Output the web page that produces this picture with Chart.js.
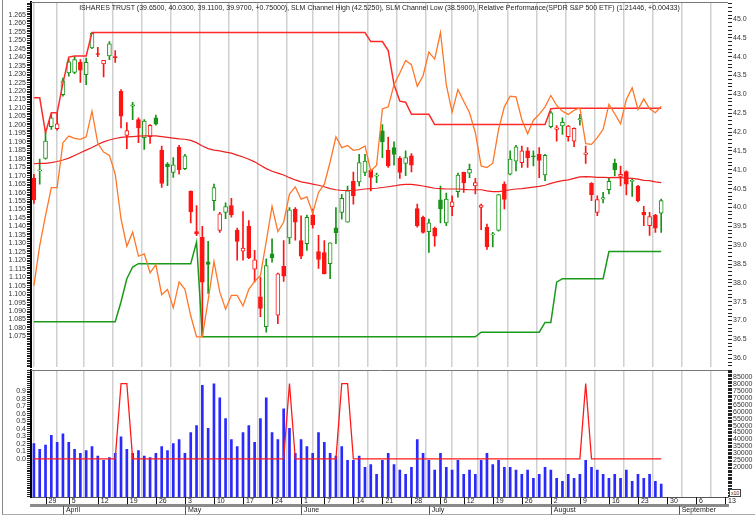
<!DOCTYPE html>
<html>
<head>
<meta charset="utf-8">
<script src="https://cdn.jsdelivr.net/npm/chart.js@4.4.1/dist/chart.umd.min.js"></script>
<style>
  body{margin:0;background:#fff;}
  #box{position:relative;width:755px;height:517px;overflow:hidden;font-family:"Liberation Sans",Arial,sans-serif;}
  #frame{position:absolute;left:2px;top:0;width:800px;height:514px;border-left:1px solid #888;border-bottom:1px solid #aaa;}
  #cTop{position:absolute;left:0;top:0;}
  #cBot{position:absolute;left:0;top:368px;}
  #titulo{position:absolute;left:31px;top:3px;width:697px;text-align:center;font-size:7px;line-height:9px;color:#222;white-space:nowrap;}
  #x10{position:absolute;left:729px;top:489px;font-size:5px;line-height:6px;border:1px solid #444;padding:0 1px;color:#222;background:#fff;}
</style>
</head>
<body>
<div id="box">
  <div id="frame"></div>
  <canvas id="cTop" width="755" height="369"></canvas>
  <canvas id="cBot" width="755" height="149"></canvas>
  <div id="titulo">ISHARES TRUST (39.6500, 40.0300, 39.1100, 39.9700, +0.75000), SLM Channel High (42.5250), SLM Channel Low (38.5900), Relative Performance(SPDR S&amp;P 500 ETF) (1.21446, +0.00433)</div>
  <div id="x10">x10</div>
</div>
<script>
// ===== TRADING DAYS =====
const marDays = [25,26,29,30,31];
const aprDays = [1,5,6,7,8,9,12,13,14,15,16,19,20,21,22,23,26,27,28,29,30];
const mayDays = [3,4,5,6,7,10,11,12,13,14,17,18,19,20,21,24,25,26,27,28];
const junDays = [1,2,3,4,7,8,9,10,11,14,15,16,17,18,21,22,23,24,25,28,29,30];
const julDays = [1,2,6,7,8,9,12,13,14,15,16,19,20,21,22,23,26,27,28,29,30];
const augDays = [2,3,4,5,6,9,10,11,12,13,16,17,18,19,20,23,24,25,26,27,30,31];
const sepDays = [1,2,3,6,7,8,9,10,13];

const weekTicks = ["Mar 29","Apr 5","Apr 12","Apr 19","Apr 26","May 3","May 10","May 17","May 24","Jun 1","Jun 7","Jun 14","Jun 21","Jun 28","Jul 6","Jul 12","Jul 19","Jul 26","Aug 2","Aug 9","Aug 16","Aug 23","Aug 30","Sep 6","Sep 13"];
const monthTicks = ["Apr 1","May 3","Jun 1","Jul 1","Aug 2","Sep 1"];
const monthNames = ["April","May","June","July","August","September"];

// ===== PRICE (ISHARES TRUST) =====
const open  = [40.77,40.97,41.30,42.14,42.09,42.99,43.57,43.58,43.85,43.52,44.23,44.08,43.81,44.02,44.00,43.08,41.91,42.69,42.33,41.85,41.88,42.38,41.52,41.15,40.93,41.60,41.03,40.43,39.36,39.21,38.56,40.18,39.39,39.87,40.05,39.39,38.84,39.50,38.36,37.63,36.84,38.77,37.14,38.44,39.19,39.96,39.12,39.04,39.80,38.83,38.80,38.51,39.46,39.87,39.61,40.69,40.68,40.93,40.99,40.83,42.03,41.52,41.59,41.30,41.17,41.37,39.97,39.74,39.36,39.45,40.20,39.59,40.02,40.42,40.93,40.91,40.57,40.00,39.47,39.27,39.39,40.62,40.88,41.23,41.19,41.50,41.37,41.41,40.86,42.14,42.07,42.16,41.88,41.76,42.32,41.41,40.64,39.87,40.22,40.47,41.17,40.82,40.95,40.69,40.57,39.87,39.52,39.80,39.85];
const high  = [40.88,41.28,42.00,42.48,42.50,43.43,43.94,44.01,43.92,43.96,44.64,44.25,43.90,44.40,44.16,43.13,42.25,42.79,42.38,42.33,42.20,42.45,41.63,41.19,41.32,41.65,41.41,40.44,40.05,39.50,39.10,40.62,39.87,40.12,40.24,39.45,39.89,39.65,38.86,38.15,38.64,39.17,38.26,39.12,40.00,40.00,39.78,39.80,39.96,39.26,39.12,39.06,40.00,40.35,40.57,40.94,41.41,41.41,41.01,40.91,42.20,41.87,41.74,41.35,41.50,41.43,40.09,39.77,39.69,39.48,40.57,40.38,40.31,40.91,40.94,41.15,40.77,40.09,39.56,39.34,40.34,40.68,41.50,41.65,41.63,41.59,41.50,41.59,41.41,42.55,42.17,42.38,42.18,42.11,42.47,41.63,40.66,40.31,40.40,40.77,41.28,41.10,40.97,40.75,40.59,40.03,39.87,39.82,40.22];
const low   = [40.11,40.62,41.28,42.07,42.05,42.95,43.48,43.55,43.32,43.26,44.21,44.00,43.46,43.92,43.85,42.11,41.56,42.33,41.72,41.54,41.70,42.18,40.53,40.58,40.80,40.88,41.00,39.59,39.25,36.58,37.72,39.92,39.34,39.70,39.74,38.60,38.60,38.64,38.02,37.10,36.69,38.55,36.92,38.04,39.04,39.13,38.64,38.86,39.45,38.38,38.24,38.11,39.04,39.69,39.61,40.09,40.57,40.84,40.44,40.66,41.32,41.06,41.12,40.77,40.84,40.94,39.48,39.32,38.81,38.97,39.59,39.52,39.78,40.27,40.40,40.79,40.36,39.41,38.89,38.95,39.37,39.96,40.86,40.97,41.06,41.06,41.10,40.79,40.71,42.11,41.76,41.94,41.76,41.61,42.18,41.17,40.18,39.78,40.12,40.36,40.84,40.57,40.33,40.29,40.15,39.52,39.26,39.34,39.34];
const close = [40.20,41.00,41.76,42.38,42.22,43.36,43.86,43.92,43.64,43.85,44.62,44.06,43.90,44.34,43.97,42.42,42.04,42.72,42.11,42.29,42.18,42.21,40.64,41.08,41.13,41.00,41.37,39.89,39.30,38.02,38.49,40.53,39.83,40.02,39.80,39.10,38.92,38.67,38.61,37.32,38.46,38.67,38.24,38.18,39.94,39.61,38.71,39.74,39.54,38.62,38.24,39.06,39.33,40.24,40.44,40.31,41.19,41.23,40.80,40.86,41.74,41.10,41.41,40.93,41.32,41.12,39.52,39.34,39.59,39.24,39.96,40.22,40.15,40.86,40.65,41.01,40.66,40.06,38.95,39.30,40.34,40.21,41.28,41.61,41.50,41.32,41.34,41.25,41.38,42.51,42.11,42.26,42.16,42.10,42.36,41.45,40.34,40.21,40.26,40.69,41.00,40.88,40.62,40.72,40.18,39.80,39.76,39.45,40.18];

// ===== OVERLAYS =====
const channelHigh = [42.91,42.91,41.98,42.51,42.51,43.30,43.99,44.02,44.02,44.02,
  44.64,44.64,44.64,44.64,44.64,44.64,44.64,44.64,44.64,44.64,44.64,44.64,44.64,44.64,44.64,44.64,
  44.64,44.64,44.64,44.64,44.64,44.64,44.64,44.64,44.64,44.64,44.64,44.64,44.64,44.64,44.64,44.64,
  44.64,44.64,44.64,44.64,44.64,44.64,44.64,44.64,44.64,44.64,44.64,44.64,44.64,44.64,44.64,44.64,
  44.40,44.40,44.40,44.16,43.26,42.82,42.79,42.47,42.47,42.47,42.47,
  42.20,42.20,42.20,42.20,42.20,42.20,42.20,42.20,42.20,42.20,42.20,42.20,42.20,42.20,42.20,42.20,42.20,42.20,42.20,42.20,
  42.62,42.63,42.63,42.63,42.63,42.63,42.63,42.63,42.63,42.63,42.63,42.63,42.63,42.63,42.63,42.63,42.63,42.63,42.63,42.63];
const channelLow = [36.97,36.97,36.97,36.97,36.97,36.97,36.97,36.97,36.97,36.97,36.97,36.97,36.97,36.97,36.97,
  37.50,38.11,38.42,38.51,38.51,38.51,38.51,38.51,38.51,38.51,38.51,38.51,38.51,39.08,
  36.57,36.57,36.57,36.57,36.57,36.57,36.57,36.57,36.57,36.57,36.57,36.57,36.57,36.57,36.57,36.57,
  36.57,36.57,36.57,36.57,36.57,36.57,36.57,36.57,36.57,36.57,36.57,36.57,36.57,36.57,36.57,36.57,
  36.57,36.57,36.57,36.57,36.57,36.57,36.57,36.57,36.57,36.57,36.57,36.57,36.57,36.57,36.57,36.57,
  36.69,36.69,36.69,36.69,36.69,36.69,36.69,36.69,36.69,36.69,36.69,36.95,36.95,
  38.02,38.11,38.11,38.11,38.11,38.11,38.11,38.11,38.11,
  38.83,38.83,38.83,38.83,38.83,38.83,38.83,38.83,38.83,38.83];
const movingAvg = [41.16,41.17,41.17,41.19,41.22,41.26,41.31,41.38,41.45,41.52,41.59,41.67,41.74,41.79,41.83,41.86,41.87,41.88,41.89,41.90,41.90,41.90,41.88,41.86,41.84,41.82,41.81,41.78,41.72,41.63,41.56,41.52,41.50,41.47,41.44,41.39,41.34,41.28,41.21,41.12,41.03,40.96,40.91,40.86,40.79,40.73,40.68,40.65,40.62,40.59,40.55,40.50,40.47,40.45,40.45,40.45,40.47,40.49,40.50,40.51,40.53,40.55,40.57,40.60,40.61,40.61,40.59,40.57,40.54,40.51,40.50,40.49,40.49,40.49,40.48,40.47,40.47,40.47,40.44,40.42,40.42,40.44,40.47,40.49,40.50,40.52,40.54,40.56,40.59,40.64,40.68,40.71,40.73,40.77,40.81,40.82,40.81,40.80,40.80,40.79,40.80,40.79,40.78,40.77,40.75,40.72,40.71,40.68,40.66];
const relPerf = [1.1050,1.1287,1.1464,1.1630,1.1630,1.1895,1.1934,1.1920,1.1915,1.1930,1.2081,1.1891,1.1840,1.1820,1.1709,1.1444,1.1283,1.1366,1.1224,1.1238,1.1126,1.1174,1.0997,1.1028,1.0919,1.1072,1.1028,1.0872,1.0748,1.0748,1.0964,1.1193,1.1013,1.0911,1.0993,1.0993,1.0930,1.1028,1.1075,1.1111,1.1311,1.1519,1.1370,1.1425,1.1591,1.1634,1.1561,1.1575,1.1479,1.1601,1.1650,1.1781,1.1930,1.1866,1.1879,1.1850,1.1856,1.1876,1.1728,1.1762,1.2095,1.2107,1.2238,1.2307,1.2381,1.2356,1.2228,1.2291,1.2430,1.2389,1.2546,1.2238,1.2075,1.2209,1.2140,1.2072,1.1954,1.1758,1.1748,1.1774,1.1974,1.2107,1.2170,1.2166,1.2032,1.1948,1.2028,1.2062,1.2107,1.2174,1.2115,1.2081,1.2062,1.2087,1.2101,1.1889,1.1885,1.1925,1.1974,1.2121,1.2066,1.2007,1.2150,1.2219,1.2091,1.2154,1.2095,1.2072,1.2111];

// ===== LOWER PANEL =====
const volume = [37000,33000,36000,43000,38000,44000,38000,33000,30000,32000,35000,28000,25000,27000,30000,42000,33000,30000,32000,28000,27000,30000,35000,32000,37000,40000,30000,45000,50000,79000,48000,80000,70000,55000,40000,35000,45000,50000,38000,55000,70000,45000,40000,62000,48000,30000,40000,35000,30000,45000,38000,30000,28000,35000,25000,25000,28000,20000,22000,15000,25000,30000,22000,18000,15000,20000,40000,30000,25000,18000,30000,20000,18000,25000,15000,18000,15000,25000,30000,22000,25000,20000,20000,18000,15000,18000,12000,15000,20000,18000,12000,10000,15000,12000,15000,25000,20000,18000,15000,12000,15000,12000,18000,10000,15000,12000,15000,10000,8000];
const signal = [0,0,0,0,0,0,0,0,0,0,0,0,0,0,0,1,1,0,0,0,0,0,0,0,0,0,0,0,0,0,0,0,0,0,0,0,0,0,0,0,0,0,0,0,1,0,0,0,0,0,0,0,0,1,1,0,0,0,0,0,0,0,0,0,0,0,0,0,0,0,0,0,0,0,0,0,0,0,0,0,0,0,0,0,0,0,0,0,0,0,0,0,0,0,0,1,0,0,0,0,0,0,0,0,0,0,0,0,0];

// ===== LABELS (one slot per trading day, future days included) =====
let labels = [];
marDays.forEach(d=>labels.push("Mar "+d));
aprDays.forEach(d=>labels.push("Apr "+d));
mayDays.forEach(d=>labels.push("May "+d));
junDays.forEach(d=>labels.push("Jun "+d));
julDays.forEach(d=>labels.push("Jul "+d));
augDays.forEach(d=>labels.push("Aug "+d));
sepDays.forEach(d=>labels.push("Sep "+d));
const weekPos = weekTicks.map(w=>labels.indexOf(w));
const monthPos = monthTicks.map(m=>labels.indexOf(m));
const xMin = -0.5, xMax = labels.length - 0.5;
const pts = arr => arr.map((v,i)=>({x:i, y:v}));

// ===== COLORS =====
const upColor = "#179317";
const downColor = "#ff1414";
function candleColor(i){
  if(i===undefined || i===0) return downColor;
  return close[i] >= close[i-1] ? upColor : downColor;
}
const fontTick = {family:"'Liberation Sans', Arial, sans-serif", size:7};
const fontY = {family:"'Liberation Sans', Arial, sans-serif", size:7, lineHeight:0.2};

// ===== PLUGINS =====
const topLine = {
  id:"topLine",
  afterDraw(chart){
    let a = chart.chartArea, c = chart.ctx;
    c.save();
    c.strokeStyle = "#777"; c.lineWidth = 1;
    c.beginPath(); c.moveTo(a.left, a.top+0.5); c.lineTo(a.right, a.top+0.5); c.stroke();
    c.restore();
  }
};
// short separators on the date rows (week starts and month starts)
const dateMarks = {
  id:"dateMarks",
  afterDraw(chart){
    let sx = chart.scales.x, sm = chart.scales.xm, c = chart.ctx;
    if(!sm) return;
    c.save();
    c.lineWidth = 1;
    c.strokeStyle = "#111";
    weekPos.forEach(p=>{
      let px = Math.round(sx.getPixelForValue(p)) + 0.5;
      c.beginPath(); c.moveTo(px, sx.top); c.lineTo(px, sx.top+7); c.stroke();
    });
    c.strokeStyle = "#555";
    monthPos.forEach(p=>{
      let px = Math.round(sm.getPixelForValue(p)) + 0.5;
      c.beginPath(); c.moveTo(px, sm.top); c.lineTo(px, sm.top+9); c.stroke();
    });
    c.restore();
  }
};

// ticks every `step`, a label every `every` ticks between kLo and kHi (in steps)
function yAxis(pos, min, max, step, every, kLo, kHi, dec, width){
  return {
    position: pos, min, max,
    afterBuildTicks: s => {
      let t = [];
      for(let k=Math.ceil(min/step); k<=Math.floor(max/step); k++) t.push({value:k*step});
      s.ticks = t;
    },
    afterFit: s => { s.width = width; },
    grid: {drawOnChartArea:false, tickLength:4, tickColor:"#222", tickWidth:1},
    border: pos==="left" ? {color:"#000", width:2} : {display:false},
    ticks: {
      autoSkip:false, padding:1, font:fontY, color:"#333",
      callback: v => { let k=Math.round(v/step); return (k%every===0 && k>=kLo && k<=kHi) ? (k*step).toFixed(dec) : ""; }
    }
  };
}

function weekAxis(show){
  return {
    type:"linear", position:"bottom", min:xMin, max:xMax, offset:false,
    afterBuildTicks: s => { s.ticks = weekPos.map(v=>({value:v})); },
    grid:{color:"#d0d0d0", lineWidth:1.5, drawTicks:false},
    border: show ? {color:"#555", width:1} : {display:false},
    ticks:{display:show, autoSkip:false, maxRotation:0, align:"start", padding:0, labelOffset:3,
           font:fontTick, color:"#222", callback: v => labels[v].split(" ")[1]}
  };
}

// ===== UPPER CHART =====
new Chart(document.getElementById("cTop"), {
  type:"bar",
  data:{
    datasets:[
      {type:"line", label:"Relative Performance", data:pts(relPerf), yAxisID:"yL", borderColor:"#ff7626", borderWidth:1.3, pointRadius:0, order:0},
      {type:"line", label:"SLM Channel High", data:pts(channelHigh), yAxisID:"yR", borderColor:"#ff2a2a", borderWidth:1.5, pointRadius:0, order:1},
      {type:"line", label:"SLM Channel Low", data:pts(channelLow), yAxisID:"yR", borderColor:"#199a19", borderWidth:1.5, pointRadius:0, order:1},
      {type:"line", label:"MA", data:pts(movingAvg), yAxisID:"yR", borderColor:"#ee2020", borderWidth:1.2, pointRadius:0, order:1},
      {label:"body", data:open.map((o,i)=>({x:i, y:[o, close[i]]})), yAxisID:"yR", grouped:false,
        barThickness:4, maxBarThickness:4, borderWidth:1, borderSkipped:false,
        borderColor: ctx => candleColor(ctx.dataIndex),
        backgroundColor: ctx => (ctx.dataIndex!==undefined && close[ctx.dataIndex] > open[ctx.dataIndex]) ? "#ffffff" : candleColor(ctx.dataIndex),
        order:2},
      {label:"wick", data:low.map((l,i)=>({x:i, y:[l, high[i]]})), yAxisID:"yR", grouped:false,
        barThickness:1, maxBarThickness:1, backgroundColor: ctx => candleColor(ctx.dataIndex), order:3}
    ]
  },
  options:{
    responsive:false, animation:false,
    layout:{padding:{top:2, bottom:0, left:0, right:0}},
    plugins:{legend:{display:false}, tooltip:{enabled:false}},
    scales:{
      x: weekAxis(false),
      yL: yAxis("left", 1.05676, 1.27265, 0.001, 5, 1075, 1265, 3, 31),
      yR: yAxis("right", 35.76, 45.45, 0.1, 5, 360, 450, 1, 27)
    }
  },
  plugins:[topLine]
});

// ===== LOWER CHART =====
new Chart(document.getElementById("cBot"), {
  type:"bar",
  data:{
    datasets:[
      {type:"line", label:"signal", data:pts(signal), yAxisID:"yS", borderColor:"#ff1a1a", borderWidth:1.3, pointRadius:0, order:0},
      {label:"volume", data:pts(volume), yAxisID:"yV", base:-1500, grouped:false, barThickness:2, maxBarThickness:2, backgroundColor:"#2a2aff", order:2}
    ]
  },
  options:{
    responsive:false, animation:false,
    layout:{padding:{top:2, bottom:3, left:0, right:0}},
    plugins:{legend:{display:false}, tooltip:{enabled:false}},
    scales:{
      x: weekAxis(true),
      xm:{type:"linear", position:"bottom", min:xMin, max:xMax, offset:false,
         afterBuildTicks: s => { s.ticks = monthPos.map(v=>({value:v})); },
         grid:{drawOnChartArea:false, drawTicks:false},
         border:{color:"#8a8a8a", width:3},
         ticks:{autoSkip:false, maxRotation:0, align:"start", padding:0, labelOffset:3, font:fontTick, color:"#222",
                callback: v => monthNames[monthPos.indexOf(v)]}},
      yS: yAxis("left", -0.51, 1.18, 0.025, 4, 0, 36, 1, 31),
      yV: yAxis("right", -1500, 90000, 1000, 5, 20, 85, 0, 27)
    }
  },
  plugins:[topLine, dateMarks]
});
</script>
</body>
</html>
